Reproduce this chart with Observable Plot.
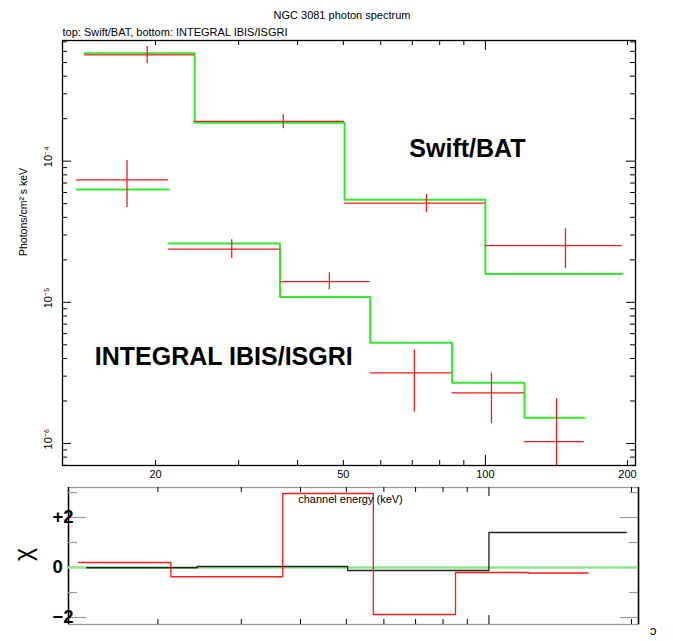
<!DOCTYPE html>
<html><head><meta charset="utf-8">
<script src="https://cdn.jsdelivr.net/npm/d3@7"></script>
<script src="https://cdn.jsdelivr.net/npm/@observablehq/plot@0.6"></script>
<style>
body{margin:0;background:#fff;}
#wrap{position:relative;width:673px;height:641px;}
#wrap svg{position:absolute;left:0;}
</style></head><body><div id="wrap"></div>
<script>
// ---------- data ----------
// Swift/BAT spectrum (keV bins, photons/cm^2/s/keV)
const batLo    = [14.15, 24.2, 50.3, 100];
const batHi    = [24.2, 50.3, 100, 195];
const batMid   = [19.2, 37.3, 75.0, 147.8];
const batData  = [5.67e-4, 1.915e-4, 5.05e-5, 2.52e-5];
const batErrLo = [4.89e-4, 1.70e-4, 4.31e-5, 1.73e-5];
const batErrHi = [6.49e-4, 2.14e-4, 5.79e-5, 3.32e-5];
const batModel = [5.81e-4, 1.875e-4, 5.33e-5, 1.59e-5];
const batChi   = [-0.01, 0.04, -0.12, 1.4];

// INTEGRAL IBIS/ISGRI spectrum
const intLo    = [13.6, 21.3, 36.7, 57.0, 85.0, 121];
const intHi    = [21.3, 36.7, 57.0, 85.0, 121, 162];
const intMid   = [17.4, 29.0, 46.7, 70.7, 103, 141.5];
const intData  = [7.36e-5, 2.38e-5, 1.40e-5, 3.16e-6, 2.28e-6, 1.03e-6];
const intErrLo = [4.70e-5, 2.04e-5, 1.23e-5, 1.67e-6, 1.38e-6, 5.0e-7];
const intErrHi = [1.01e-4, 2.78e-5, 1.62e-5, 4.60e-6, 3.16e-6, 2.07e-6];
const intModel = [6.31e-5, 2.61e-5, 1.09e-5, 5.16e-6, 2.69e-6, 1.52e-6];
const intModelGroup = [0, 1, 1, 1, 1, 1];
const intChi   = [0.2, -0.37, 2.96, -1.88, -0.2, -0.22];

// ticks and labels
const xTickLabels = [20, 50, 100, 200];
const xMinorTicks = [20, 30, 40, 50, 60, 70, 80, 90, 200];
const xMajorTicks = [100];
const yMajorTicks = [1e-4, 1e-5, 1e-6];
const yTickLabels = ["10\u207B\u2074", "10\u207B\u2075", "10\u207B\u2076"];
const yMinorTicks = [7e-7, 8e-7, 9e-7,
  2e-6, 3e-6, 4e-6, 5e-6, 6e-6, 7e-6, 8e-6, 9e-6,
  2e-5, 3e-5, 4e-5, 5e-5, 6e-5, 7e-5, 8e-5, 9e-5,
  2e-4, 3e-4, 4e-4, 5e-4, 6e-4, 7e-4];
const chiMajorTicks = [-2, 0, 2];
const chiTickLabels = ["\u22122", "0", "+2"];
const chiMinorTicks = [-1, 1, 3];

const annotations = [
  {text: "Swift/BAT", x: 91.6, y: 1.227e-4},
  {text: "INTEGRAL IBIS/ISGRI", x: 27.9, y: 4.11e-6}
];

// ---------- derived tables ----------
const bat = batLo.map((l, i) => ({lo: l, hi: batHi[i], mid: batMid[i], v: batData[i], elo: batErrLo[i], ehi: batErrHi[i]}));
const intg = intLo.map((l, i) => ({lo: l, hi: intHi[i], mid: intMid[i], v: intData[i], elo: intErrLo[i], ehi: intErrHi[i]}));
function steps(lo, hi, v, grp) {
  return lo.flatMap((l, i) => [{x: l, y: v[i], g: grp ? grp[i] : 0}, {x: hi[i], y: v[i], g: grp ? grp[i] : 0}]);
}
const modelPts = [
  ...steps(batLo, batHi, batModel).map(d => ({...d, g: "bat"})),
  ...steps(intLo, intHi, intModel, intModelGroup).map(d => ({...d, g: "int" + d.g}))
];
const batChiPts = steps(batLo, batHi, batChi);
const intChiPts = steps(intLo, intHi, intChi);

const FONT = "Liberation Sans, Arial, Helvetica, sans-serif";
const RED = "#ff1a1a", GREEN = "#30ea30";

// ---------- top panel ----------
const W = 673, topH = 485;
const tM = {top: 40, right: 38, bottom: 20, left: 62};
const tIW = W - tM.left - tM.right, tIH = topH - tM.top - tM.bottom;

const topPlot = Plot.plot({
  width: W, height: topH,
  marginTop: tM.top, marginRight: tM.right, marginBottom: tM.bottom, marginLeft: tM.left,
  style: {fontFamily: FONT, fontSize: "11px", background: "transparent", overflow: "visible"},
  x: {type: "log", domain: [12.7, 208], axis: null},
  y: {type: "log", domain: [6.98e-7, 7.16e-4], axis: null},
  marks: [
    Plot.tickX(xMinorTicks, {x: d => d, insetTop: tIH - 5, stroke: "black"}),
    Plot.tickX(xMinorTicks, {x: d => d, insetBottom: tIH - 5, stroke: "black"}),
    Plot.tickX(xMajorTicks, {x: d => d, insetTop: tIH - 10, stroke: "black"}),
    Plot.tickX(xMajorTicks, {x: d => d, insetBottom: tIH - 10, stroke: "black"}),
    Plot.tickY(yMinorTicks, {y: d => d, insetRight: tIW - 5, stroke: "black"}),
    Plot.tickY(yMinorTicks, {y: d => d, insetLeft: tIW - 5, stroke: "black"}),
    Plot.tickY(yMajorTicks, {y: d => d, insetRight: tIW - 9, stroke: "black"}),
    Plot.tickY(yMajorTicks, {y: d => d, insetLeft: tIW - 9, stroke: "black"}),
    Plot.line(modelPts, {x: "x", y: "y", z: "g", stroke: GREEN, strokeWidth: 2, curve: "linear"}),
    Plot.ruleY([...bat, ...intg], {y: "v", x1: "lo", x2: "hi", stroke: RED, strokeWidth: 1.3, clip: true}),
    Plot.ruleX([...bat, ...intg], {x: "mid", y1: "elo", y2: "ehi", stroke: RED, strokeWidth: 1.3, clip: true}),
    Plot.frame({stroke: "black", strokeWidth: 1.3}),
    Plot.text(xTickLabels, {x: d => d, text: d => String(d), frameAnchor: "bottom", dy: 12, fontSize: 11, fill: "black"}),
    Plot.text(yMajorTicks, {y: d => d, text: (d, i) => yTickLabels[i], frameAnchor: "left", dx: -14, dy: 6,
      rotate: -90, textAnchor: "start", fontSize: 11, fill: "black"}),
    Plot.text(["Photons/cm\u00B2 s keV"], {frameAnchor: "left", dx: -39, dy: 3, rotate: -90, fontSize: 10.5, fill: "black"}),
    Plot.text(annotations, {x: "x", y: "y", text: "text", fontSize: 25, fontWeight: "bold", fill: "black"}),
    Plot.text(["NGC 3081 photon spectrum"], {frameAnchor: "top", dx: -7, dy: -29, fontSize: 11, fill: "black"}),
    Plot.text(["top: Swift/BAT, bottom: INTEGRAL IBIS/ISGRI"], {frameAnchor: "top-left", textAnchor: "start", dy: -12, fontSize: 11, fill: "black"})
  ]
});
topPlot.style.top = "0px";

// ---------- bottom panel ----------
const botH = 156;
const bM = {top: 2, right: 35, bottom: 17, left: 68};
const bIW = W - bM.left - bM.right, bIH = botH - bM.top - bM.bottom;
const xDomB = [12.95, 206.9], yDomB = [-2.28, 3.2];

const bottomPlot = Plot.plot({
  width: W, height: botH,
  marginTop: bM.top, marginRight: bM.right, marginBottom: bM.bottom, marginLeft: bM.left,
  style: {fontFamily: FONT, fontSize: "11px", background: "transparent", overflow: "visible"},
  x: {type: "log", domain: xDomB, axis: null},
  y: {type: "linear", domain: yDomB, axis: null},
  marks: [
    Plot.frame({stroke: "#999", strokeWidth: 1.3}),
    Plot.ruleX(xDomB, {stroke: "black", strokeWidth: 1.5}),
    Plot.tickY(chiMajorTicks, {y: d => d, insetRight: bIW - 18, stroke: "#999", strokeWidth: 1.2}),
    Plot.tickY(chiMajorTicks, {y: d => d, insetLeft: bIW - 18, stroke: "#999", strokeWidth: 1.2}),
    Plot.tickY(chiMinorTicks, {y: d => d, insetRight: bIW - 9, stroke: "#999", strokeWidth: 1.2}),
    Plot.tickY(chiMinorTicks, {y: d => d, insetLeft: bIW - 9, stroke: "#999", strokeWidth: 1.2}),
    Plot.tickX(xMinorTicks, {x: d => d, insetTop: bIH - 5, stroke: "black"}),
    Plot.tickX(xMinorTicks, {x: d => d, insetBottom: bIH - 5, stroke: "black"}),
    Plot.tickX(xMajorTicks, {x: d => d, insetTop: bIH - 9, stroke: "black"}),
    Plot.tickX(xMajorTicks, {x: d => d, insetBottom: bIH - 9, stroke: "black"}),
    Plot.ruleY([0], {stroke: "#8fe58f", strokeWidth: 2.5}),
    Plot.line(batChiPts, {x: "x", y: "y", stroke: "#222", strokeWidth: 1.3}),
    Plot.line(intChiPts, {x: "x", y: "y", stroke: RED, strokeWidth: 1.3}),
    Plot.text(chiMajorTicks, {y: d => d, text: (d, i) => chiTickLabels[i], frameAnchor: "left", dx: -16,
      fontSize: 18.5, fontWeight: "bold", fill: "black"}),
    Plot.text(["\u03C7"], {frameAnchor: "left", dx: -45, dy: 5, rotate: -90, fontSize: 25, fill: "black"}),
    Plot.text(["channel energy (keV)"], {frameAnchor: "top", dx: -3, dy: 8, fontSize: 11, fill: "black"}),
    Plot.text(["\u0254"], {frameAnchor: "bottom-right", dx: 18, dy: 10, fontSize: 13, fill: "black"})
  ]
});
bottomPlot.style.top = "485px";

const wrap = document.getElementById("wrap");
wrap.appendChild(topPlot);
wrap.appendChild(bottomPlot);
</script>
</body></html>
